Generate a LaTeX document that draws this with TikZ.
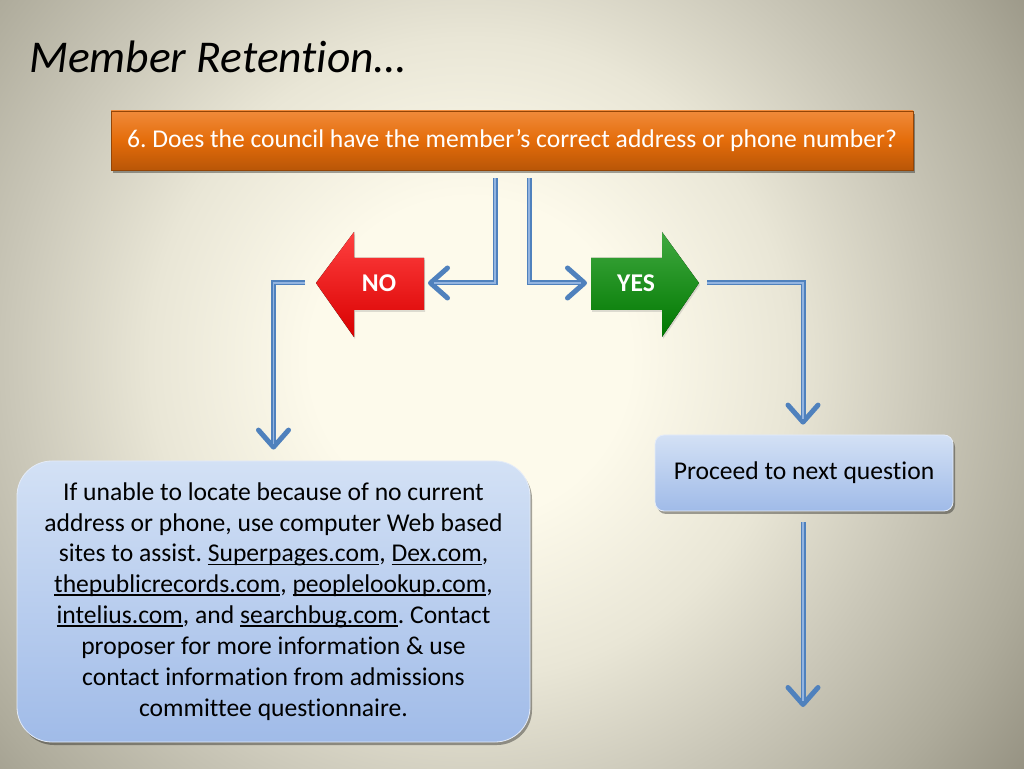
\documentclass[tikz,border=0pt]{standalone}
\usepackage{fontspec}
\setmainfont[Ligatures={NoCommon}]{Carlito}
\usetikzlibrary{arrows.meta,shadows,calc}
\frenchspacing
\definecolor{bg0}{HTML}{FDFAEB}
\definecolor{bg1}{HTML}{E9E6D6}
\definecolor{bg2}{HTML}{C9C6B7}
\definecolor{bg3}{HTML}{AEAB9B}
\definecolor{bg4}{HTML}{8F8B7B}
\definecolor{bg5}{HTML}{858171}
\pgfdeclareradialshading{bgshade}{\pgfpoint{0bp}{0bp}}{color(0bp)=(bg0); color(5bp)=(bg0); color(10bp)=(bg1); color(14.5bp)=(bg2); color(18.5bp)=(bg3); color(22.5bp)=(bg4); color(25bp)=(bg5); color(50bp)=(bg5)}
\definecolor{orT}{HTML}{F08A3A}
\definecolor{orM}{HTML}{E46C0A}
\definecolor{orB}{HTML}{B95607}
\definecolor{blT}{HTML}{D3E1F5}
\definecolor{blB}{HTML}{A0BBE8}
\definecolor{blD}{HTML}{A9C0E6}
\definecolor{conC}{HTML}{4F81BD}
\definecolor{conH}{HTML}{93B4E0}
\definecolor{grn}{HTML}{008C00}
\newcommand\lnk[1]{\leavevmode\setbox0=\hbox{#1}\rlap{\rule[-2.8pt]{\wd0}{1.2pt}}\box0}
\tikzset{
  qbox/.style={draw=orB!80!black, line width=0.6pt, top color=orT, bottom color=orB, middle color=orM,
    minimum width=802pt, minimum height=59pt, inner sep=0pt, text=white,
    font=\fontsize{25.6}{30}\selectfont,
    drop shadow={shadow xshift=1.5pt, shadow yshift=-3pt, fill=black, opacity=0.35}},
  bluebox/.style={draw=white!70!blD, line width=0.8pt, top color=blT, bottom color=blB, inner sep=0pt,
    drop shadow={shadow xshift=2pt, shadow yshift=-3pt, fill=black, opacity=0.35}},
  conn/.style={draw=conC, line width=5pt, -{Straight Barb[length=17pt,width=30pt,round]}},
  connhi/.style={draw=conH, line width=1.4pt, shorten >=6pt},
  lbl/.style={text=white, font=\bfseries\fontsize{25.6}{30}\selectfont},
}
\begin{document}
\begin{tikzpicture}[x=1pt,y=1pt]
\useasboundingbox (0,0) rectangle (1024,768);
\begin{scope}
  \clip (0,0) rectangle (1024,768);
  \shade[shading=bgshade] (470,410) circle (800);
\end{scope}
% title
\node[anchor=base west, inner sep=0pt, font=\itshape\fontsize{45.5}{54}\selectfont] (title) at (29,695) {Member Retention…};
% question box
\node[qbox] (q) at (512,627.5) {6. Does the council have the member’s correct address or phone number?};
% NO arrow
\fill[top color=red!75!white, middle color=red, bottom color=red!85!black, drop shadow={shadow xshift=1pt, shadow yshift=-2pt, opacity=0.25}]
  (316,485) -- (354,536) -- (354,510) -- (424,510) -- (424,458) -- (354,458) -- (354,431) -- cycle;
\node[lbl] (no) at (379,485) {NO};
% YES arrow
\fill[top color=grn!75!white, middle color=grn, bottom color=grn!85!black, drop shadow={shadow xshift=1pt, shadow yshift=-2pt, opacity=0.25}]
  (591,510) -- (662,510) -- (662,536) -- (699,485) -- (662,431) -- (662,458) -- (591,458) -- cycle;
\node[lbl] (yes) at (636,485) {YES};
% big box
\node[bluebox, minimum width=513pt, minimum height=281pt, rounded corners=35pt, align=center,
  font=\fontsize{25.6}{30.9}\selectfont] (big) at (273.5,166.5)
  {If unable to locate because of no current\\ address or phone, use computer Web based\\ sites to assist. \lnk{Superpages.com}, \lnk{Dex.com},\\ \lnk{thepublicrecords.com}, \lnk{peoplelookup.com},\\ \lnk{intelius.com}, and \lnk{searchbug.com}. Contact\\ proposer for more information \& use\\ contact information from admissions\\ committee questionnaire.};
% proceed box
\node[bluebox, minimum width=298pt, minimum height=76pt, rounded corners=9pt,
  font=\fontsize{25.6}{30}\selectfont] (pr) at (804,295) {Proceed to next question};
% connector ports
\coordinate (q1) at ([xshift=-17pt,yshift=-8pt]q.south);
\coordinate (q2) at ([xshift=17pt,yshift=-8pt]q.south);
\coordinate (noin) at (428,485);
\coordinate (noout) at (305,485);
\coordinate (yesin) at (587,485);
\coordinate (yesout) at (707,485);
\coordinate (bigin) at ([yshift=11pt]big.north);
\coordinate (prin) at ([xshift=-1pt,yshift=10pt]pr.north);
\coordinate (prout) at ([xshift=-1pt,yshift=-11pt]pr.south);
\coordinate (fin) at (803,61);
% connectors
\draw[conn] (q1) |- (noin);
\draw[conn] (q2) |- (yesin);
\draw[conn] (noout) -| (bigin);
\draw[conn] (yesout) -| (prin);
\draw[conn] (prout) -- (fin);
\draw[connhi] (q1) |- (noin);
\draw[connhi] (q2) |- (yesin);
\draw[connhi] (noout) -| (bigin);
\draw[connhi] (yesout) -| (prin);
\draw[connhi] (prout) -- (fin);
\end{tikzpicture}
\end{document}
